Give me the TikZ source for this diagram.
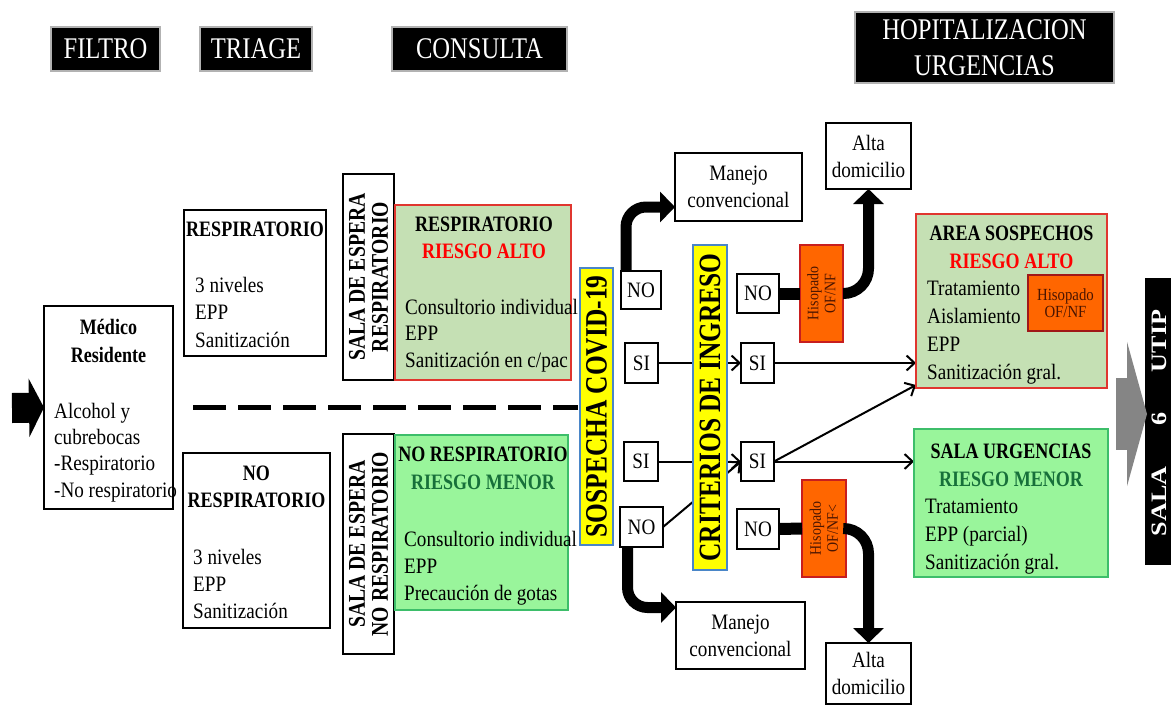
\documentclass[tikz,border=0pt]{standalone}
\usepackage{fontspec}
\setmainfont{Liberation Serif}[FakeStretch=0.87]
\newfontfamily\bfam{Liberation Serif}[FakeStretch=0.82]
\usetikzlibrary{arrows.meta,calc}
\definecolor{lgreen}{HTML}{C5E0B4}
\definecolor{bgreen}{HTML}{99F59B}
\definecolor{gborder}{HTML}{3DBE6A}
\definecolor{rborder}{HTML}{E0362F}
\definecolor{riskred}{HTML}{FF0000}
\definecolor{riskgreen}{HTML}{17703A}
\definecolor{orng}{HTML}{FF6600}
\definecolor{oborder}{HTML}{C81E1E}
\definecolor{ylw}{HTML}{FFFF00}
\definecolor{yborder}{HTML}{4A86C8}
\definecolor{hisotext}{HTML}{4A1500}
\definecolor{garrow}{HTML}{858585}
\pgfdeclarelayer{bg}\pgfsetlayers{bg,main}
\tikzset{
  box/.style={draw, line width=1.2pt, inner sep=0pt, outer sep=0pt},
  span/.style n args={4}{at={({(#1+#3)/2},{(#2+#4)/2})}, minimum width={#3-#1}, minimum height={#4-#2}},
  hdr/.style={box, fill=black, draw=gray!60, text=white, font=\bfam\fontsize{30}{36}\selectfont, align=center},
  txt/.style={inner sep=0pt, anchor=base west, align=left, font=\fontsize{22}{27}\selectfont},
  ttl/.style={inner sep=0pt, anchor=base, align=center, font=\bfam\bfseries\fontsize{22}{27.5}\selectfont},
  sbox/.style={box, align=center, font=\fontsize{22}{27}\selectfont},
  vert/.style={box, fill=ylw, draw=yborder, line width=2pt},
  verttext/.style={rotate=90, inner sep=0pt, font=\bfam\bfseries\fontsize{31}{31}\selectfont},
  salatext/.style={rotate=90, inner sep=0pt, align=center, font=\bfam\bfseries\fontsize{24}{23}\selectfont},
  swab/.style={box, fill=orng, draw=oborder, line width=2pt},
  swabtext/.style={rotate=90, inner sep=0pt, align=center, text=hisotext, font=\fontsize{16}{17}\selectfont},
  bigarrow/.style={line width=11pt, -{Triangle[length=15pt,width=30pt]}},
  bigline/.style={line width=12pt},
  thinarrow/.style={line width=2pt, -{Straight Barb[length=8pt,width=15pt]}}
}
\begin{document}
\begin{tikzpicture}[x=1pt,y=-1pt]
\useasboundingbox (0,0) rectangle (1171,705);
\begin{pgfonlayer}{bg}
\fill[white] (0,0) rectangle (1171,705);
\end{pgfonlayer}

% headers
\node[hdr, span={51}{27}{160}{71}] (filtro) {FILTRO};
\node[hdr, span={200}{27}{312}{71}] (triage) {TRIAGE};
\node[hdr, span={392}{27}{567}{71}] (consulta) {CONSULTA};
\node[hdr, span={855}{12}{1114}{83}] (hosp) {HOPITALIZACION\\URGENCIAS};

% filtro
\node[box, span={44}{306}{173}{509}] (medico) {};
\node[ttl, font=\bfam\bfseries\fontsize{22}{28}\selectfont] (medicot) at (108.5,362) {Médico\\Residente};
\node[txt, font=\fontsize{22}{26.3}\selectfont] (medicol) at (54,497) {Alcohol y\\cubrebocas\\-Respiratorio\\-No respiratorio};
\coordinate (leftstart) at (12,408);
\draw[line width=30pt, -{Triangle[length=15pt,width=58pt]}] (leftstart) -- (medico.west);

% triage
\node[box, span={184}{210}{326}{356}] (tresp) {};
\node[ttl] (trespt) at (255,236) {RESPIRATORIO};
\node[txt, font=\fontsize{22}{27.5}\selectfont] (trespl) at (195,347) {3 niveles\\EPP\\Sanitización};
\node[box, span={183}{453}{330}{628}] (tnores) {};
\node[ttl] (tnorest) at (256.5,507.5) {NO\\RESPIRATORIO};
\node[txt] (tnoresl) at (193,618) {3 niveles\\EPP\\Sanitización};

\coordinate (dash1) at (193,407);
\coordinate (dash2) at (578,407);
\draw[line width=5pt, dash pattern=on 33pt off 12pt] (dash1) -- (dash2);

% salas de espera
\node[box, span={343}{174}{394}{380}] (salar) {};
\node[salatext] (salart) at (salar.center) {SALA DE ESPERA\\RESPIRATORIO};
\node[box, span={343}{434}{394}{654}] (salan) {};
\node[salatext] (salant) at (salan.center) {SALA DE ESPERA\\NO RESPIRATORIO};

% consulta
\node[box, fill=lgreen, draw=rborder, span={395}{205}{571}{380}] (cresp) {};
\node[ttl] (crespt) at (484,258.5) {RESPIRATORIO\\\textcolor{riskred}{RIESGO ALTO}};
\node[txt, font=\fontsize{22}{26.5}\selectfont] (crespl) at (405,367) {Consultorio individual\\EPP\\Sanitización en c/pac};
\node[box, fill=bgreen, draw=gborder, span={395}{435}{568}{610}] (cnores) {};
\node[ttl, font=\bfam\bfseries\fontsize{22}{28}\selectfont] (cnorest) at (483,489) {NO RESPIRATORIO\\\textcolor{riskgreen}{RIESGO MENOR}};
\node[txt] (cnoresl) at (404,600) {Consultorio individual\\EPP\\Precaución de gotas};

% yellow columns
\node[vert, span={580}{268}{613}{545}] (sosp) {};
\node[verttext] (sospt) at (sosp.center) {SOSPECHA COVID-19};
\node[vert, span={693}{245}{727}{570}] (crit) {};
\node[verttext] (critt) at (crit.center) {CRITERIOS DE INGRESO};

% small decision boxes
\node[sbox, span={621}{271}{661}{309}] (no1) {NO};
\node[sbox, span={625}{343}{658}{383}] (si1) {SI};
\node[sbox, span={624}{442}{658}{481}] (si3) {SI};
\node[sbox, span={620}{507}{663}{547}] (no3) {NO};
\node[sbox, span={737}{274}{779}{313}] (no2) {NO};
\node[sbox, span={741}{343}{774}{383}] (si2) {SI};
\node[sbox, span={741}{442}{774}{481}] (si4) {SI};
\node[sbox, span={737}{509}{779}{549}] (no4) {NO};

\node[sbox, span={675}{153}{802}{221}] (man1) {Manejo\\convencional};
\node[sbox, span={676}{602}{805}{669}] (man2) {Manejo\\convencional};
\node[sbox, span={826}{123}{911}{189}] (alta1) {Alta\\domicilio};
\node[sbox, span={826}{643}{911}{704}] (alta2) {Alta\\domicilio};

\node[swab, span={800}{245}{843}{342}] (swab1) {};
\node[swabtext] (swab1t) at (swab1.center) {Hisopado\\OF/NF};
\node[swab, span={802}{480}{846}{577}] (swab2) {};
\node[swabtext] (swab2t) at (swab2.center) {Hisopado\\OF/NF<};

% hospitalizacion
\node[box, fill=lgreen, draw=rborder, span={916}{214}{1107}{388}] (area) {};
\node[ttl, font=\bfam\bfseries\fontsize{22}{28}\selectfont] (areat) at (1011.5,268) {AREA SOSPECHOS\\\textcolor{riskred}{RIESGO ALTO}};
\node[txt, font=\fontsize{22}{27.7}\selectfont] (areal) at (927,379) {Tratamiento\\Aislamiento\\EPP\\Sanitización gral.};
\node[swab, line width=2.5pt, draw=oborder!80!black, span={1028}{275}{1103}{331}, align=center, text=hisotext, font=\fontsize{17}{16.5}\selectfont] (swab3) {Hisopado\\OF/NF};

\node[box, fill=bgreen, draw=gborder, span={914}{429}{1108}{577}] (urg) {};
\node[ttl, font=\bfam\bfseries\fontsize{22}{28}\selectfont] (urgt) at (1011,486) {SALA URGENCIAS\\\textcolor{riskgreen}{RIESGO MENOR}};
\node[txt, font=\fontsize{22}{28}\selectfont] (urgl) at (925,569) {Tratamiento\\EPP (parcial)\\Sanitización gral.};

% UTIP bar
\node[fill=black, inner sep=0pt, outer sep=0pt, span={1145}{278}{1172}{565}] (utip) {};
\node[rotate=90, inner sep=0pt, text=white, font=\bfam\bfseries\fontsize{22}{22}\selectfont] (utipt) at (1159,423) {\scalebox{1.45}[1]{SALA\hspace{28pt}6\hspace{28pt}UTIP}};
\coordinate (graystart) at (1116,414);
\draw[garrow, line width=72pt, -{Triangle[length=20pt,width=144pt]}] (graystart) -- ($(utip.west |- graystart)+(2,0)$);

% connectors
\begin{pgfonlayer}{bg}
\draw[thinarrow] (si1.east) -- (si2.west);
\draw[thinarrow] (si3.east) -- (si4.west);
\draw[thinarrow] (no3.east) -- (si4.west);
\draw[thinarrow] (si2.east) -- (si2.east -| area.west);
\draw[thinarrow] (si4.east) -- (si4.east -| urg.west);
\draw[thinarrow] (si4.east) -- ($(area.south west)+(0,-3)$);
\end{pgfonlayer}
\draw[bigarrow, rounded corners=20pt] ($(no1.north)+(-15,0)$) |- ($(man1.west)+(0,20)$);
\draw[bigarrow, rounded corners=20pt] ($(no3.south)+(-14,0)$) |- ($(man2.west)+(0,-28)$);
\draw[bigline] (no2.east) -- (swab1.west);
\draw[bigarrow, rounded corners=25pt] (swab1.east) -| (alta1.south);
\draw[bigline] (no4.east) -- (swab2.west);
\draw[bigarrow, rounded corners=25pt] (swab2.east) -| (alta2.north);
\end{tikzpicture}
\end{document}
